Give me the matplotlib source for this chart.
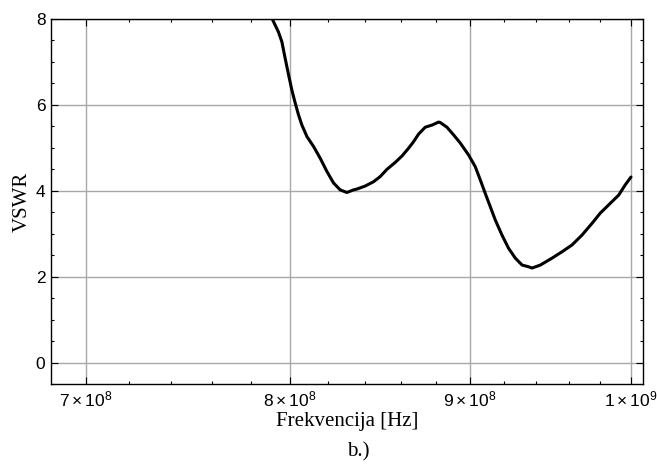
import numpy as np
import matplotlib
matplotlib.use("Agg")
import matplotlib.pyplot as plt
from matplotlib.ticker import FixedLocator, FixedFormatter, MultipleLocator

plt.rcParams.update({"mathtext.fontset": "custom", "mathtext.rm": "Liberation Sans",
                     "mathtext.it": "Liberation Sans:italic"})

# measured VSWR curve (frequency in MHz)
freq_mhz = [790.5, 793.9, 795.7, 797.4, 799.2, 800.9, 802.7, 804.4, 806.2, 808.9,
            812.4, 815.9, 819.5, 823.1, 826.7, 830.3, 833.9, 835.8, 840.3, 844.9,
            848.6, 852.4, 857.0, 860.8, 864.5, 867.3, 870.2, 874.0, 877.9, 881.7,
            882.6, 886.5, 890.4, 894.3, 899.2, 903.1, 906.1, 909.0, 912.0, 915.0,
            919.0, 923.0, 927.1, 931.2, 935.2, 937.3, 942.4, 949.6, 955.9, 962.2,
            968.5, 974.8, 980.1, 986.6, 992.0, 996.3, 1000.0]
vswr = [8.02, 7.70, 7.47, 7.09, 6.70, 6.35, 6.04, 5.77, 5.53, 5.26,
        5.03, 4.76, 4.45, 4.18, 4.02, 3.96, 4.02, 4.04, 4.11, 4.21,
        4.33, 4.50, 4.66, 4.81, 4.99, 5.14, 5.32, 5.48, 5.53, 5.60,
        5.59, 5.48, 5.30, 5.11, 4.83, 4.56, 4.25, 3.94, 3.63, 3.32,
        2.97, 2.66, 2.43, 2.27, 2.23, 2.20, 2.27, 2.43, 2.58, 2.74,
        2.97, 3.24, 3.48, 3.71, 3.90, 4.14, 4.32]

major_x = [7e8, 8e8, 9e8, 1e9]
major_lbl = [r"$7\times10^{8}$", r"$8\times10^{8}$",
             r"$9\times10^{8}$", r"$1\times10^{9}$"]
minor_x = [7.2e8, 7.4e8, 7.6e8, 7.8e8, 8.2e8, 8.4e8, 8.6e8, 8.8e8,
           9.2e8, 9.4e8, 9.6e8, 9.8e8]

fig = plt.figure(figsize=(6.57, 4.65), dpi=100)
ax = fig.add_axes([51/657, 1-384/465, 592/657, 365/465])
ax.plot(np.array(freq_mhz)*1e6, vswr, color="black", lw=2.2,
        solid_capstyle="round", solid_joinstyle="round")
ax.set_xscale("log")
ax.set_xlim(6.841e8, 1.0079e9); ax.set_ylim(-0.5, 8)

ax.xaxis.set_major_locator(FixedLocator(major_x))
ax.xaxis.set_major_formatter(FixedFormatter(major_lbl))
ax.xaxis.set_minor_locator(FixedLocator(minor_x))
ax.xaxis.set_minor_formatter(FixedFormatter([""]*len(minor_x)))
ax.yaxis.set_major_locator(MultipleLocator(2))
ax.yaxis.set_minor_locator(MultipleLocator(0.5))
ax.tick_params(which="both", direction="in", top=True, right=True, width=0.8)
ax.tick_params(which="major", length=5, pad=4)
ax.tick_params(which="minor", length=2.5)
for t in ax.get_yticklabels():
    t.set_fontfamily("Liberation Sans"); t.set_fontsize(12.5)
for t in ax.get_xticklabels():
    t.set_fontfamily("Liberation Sans"); t.set_fontsize(12.5)
ax.grid(True, which="major", color="#a8a8a8", lw=1)
for s in ax.spines.values():
    s.set_linewidth(1)

ax.set_xlabel("Frekvencija [Hz]", fontfamily="Liberation Serif", fontsize=15, labelpad=2)
ax.set_ylabel("VSWR", fontfamily="Liberation Serif", fontsize=15, labelpad=3)
fig.text(0.545, 1-452/465, "b.)", ha="center", va="center",
         fontfamily="Liberation Serif", fontsize=15)

fig.savefig("out.png", dpi=100)
